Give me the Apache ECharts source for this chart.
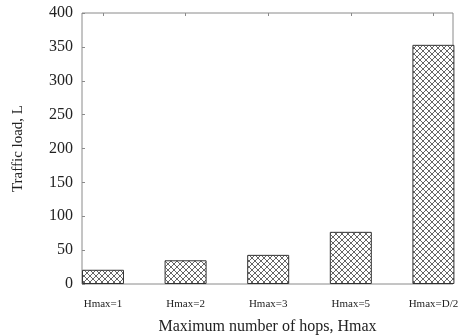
<!DOCTYPE html>
<html>
<head>
<meta charset="utf-8">
<script src="https://cdn.jsdelivr.net/npm/echarts@6/dist/echarts.min.js"></script>
<style>
html,body{margin:0;padding:0;background:#fff;}
#chart{width:464px;height:336px;}
</style>
</head>
<body>
<div id="chart"></div>
<script>
const categories = ['Hmax=1', 'Hmax=2', 'Hmax=3', 'Hmax=5', 'Hmax=D/2'];
const trafficLoad = [21, 35, 43, 77, 353];
const yTicks = [0, 50, 100, 150, 200, 250, 300, 350, 400];

function hatch() {
  const c = document.createElement('canvas');
  c.width = 6; c.height = 6;
  const g = c.getContext('2d');
  g.fillStyle = '#fff';
  g.fillRect(0, 0, 6, 6);
  g.strokeStyle = '#666';
  g.lineWidth = 1;
  g.beginPath();
  g.moveTo(-1, -1); g.lineTo(7, 7);
  g.moveTo(-1, 7); g.lineTo(7, -1);
  g.moveTo(5, -1); g.lineTo(7, 1);
  g.moveTo(-1, 5); g.lineTo(1, 7);
  g.stroke();
  return c;
}

const chart = echarts.init(document.getElementById('chart'), null, {renderer: 'canvas'});
const idx = categories.map((_, i) => i);
chart.setOption({
  animation: false,
  textStyle: {fontFamily: 'Liberation Serif'},
  grid: {left: 82, right: 11, top: 13, bottom: 52, outerBoundsMode: 'none', containLabel: false,
    show: true, borderColor: '#8a8a8a', borderWidth: 1, backgroundColor: 'transparent'},
  xAxis: [{
    type: 'value', min: -0.254, max: 4.237, position: 'bottom',
    axisLine: {show: false, onZero: false}, splitLine: {show: false},
    axisTick: {show: false},
    axisLabel: {customValues: idx, formatter: v => categories[Math.round(v)], fontFamily: 'Liberation Serif', fontSize: 11, color: '#222', margin: 15},
    name: 'Maximum number of hops, Hmax', nameLocation: 'middle', nameGap: 35,
    nameTextStyle: {fontFamily: 'Liberation Serif', fontSize: 16, color: '#222'}
  }, {
    type: 'value', min: -0.254, max: 4.237, position: 'top',
    axisLine: {show: false, onZero: false}, splitLine: {show: false},
    axisTick: {show: true, inside: true, length: 3, customValues: idx, lineStyle: {color: '#8a8a8a'}},
    axisLabel: {show: false, customValues: idx}
  }],
  yAxis: {
    type: 'value', min: 0, max: 400, interval: 50,
    axisLine: {show: false, onZero: false}, splitLine: {show: false},
    axisTick: {show: true, inside: true, length: 3, lineStyle: {color: '#8a8a8a'}},
    axisLabel: {fontFamily: 'Liberation Serif', fontSize: 16, color: '#222', margin: 9,
      customValues: yTicks},
    name: 'Traffic load, L', nameLocation: 'middle', nameGap: 56,
    nameTextStyle: {fontFamily: 'Liberation Serif', fontSize: 15, color: '#222'}
  },
  series: [{
    type: 'bar', xAxisIndex: 0,
    data: trafficLoad.map((v, i) => [i, v]),
    barWidth: 42,
    clip: false,
    itemStyle: {color: {image: hatch(), repeat: 'repeat'}, borderColor: '#333', borderWidth: 1}
  }]
});
</script>
</body>
</html>
